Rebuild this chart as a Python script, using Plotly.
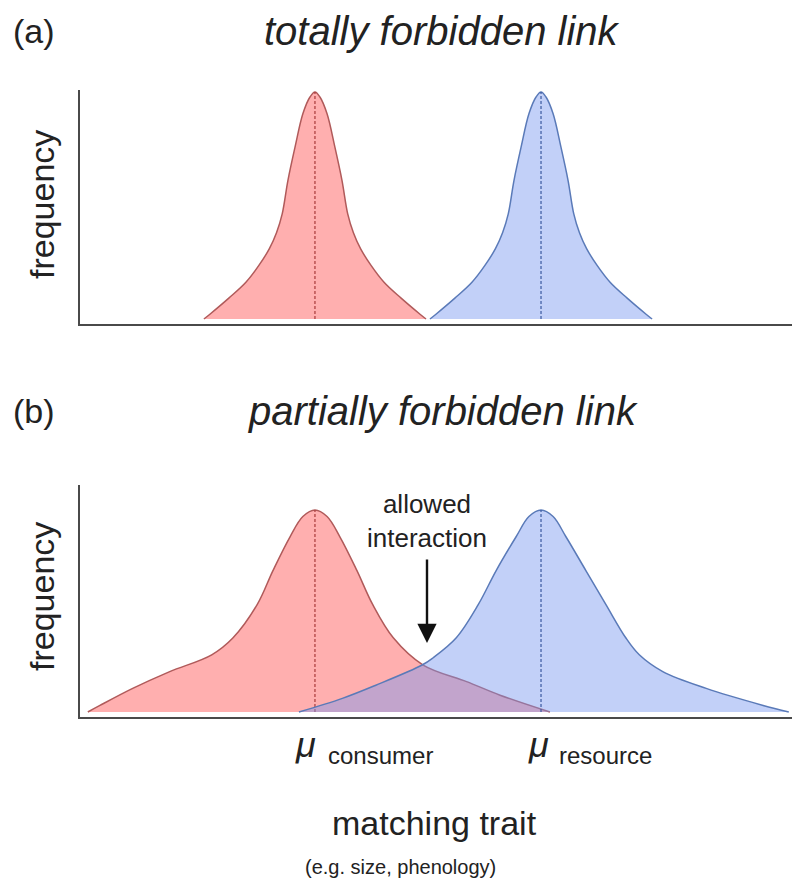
import plotly.graph_objects as go

W, H = 792, 882

# ---- data (trait axis 0..100, frequency in arbitrary units) ----
mu_consumer = 33.0
mu_resource = 64.75

# panel (a): symmetric narrow profile (offset from mean, frequency)
a_offset = [0, 0.7, 1.7, 2.8, 3.8, 4.6, 5.4, 6.4, 7.9, 9.7, 12.1, 14.8, 15.6]
a_freq = [1.0, 0.978, 0.904, 0.757, 0.61, 0.463, 0.38, 0.31, 0.235, 0.162, 0.092, 0.02, 0.0]

# panel (b): consumer (red)
b_red_left_offset = [0, 1.7, 3.5, 5.9, 8.1, 11.5, 14.5, 20.4, 25.6, 30.2, 31.9]
b_red_left_freq = [0.89, 0.861, 0.772, 0.623, 0.474, 0.327, 0.252, 0.178, 0.104, 0.029, 0.0]
b_red_right_offset = [0, 1.7, 3.5, 5.9, 8.1, 11.0, 15.2, 21.3, 26.0, 33.0]
b_red_right_freq = [0.89, 0.861, 0.772, 0.623, 0.474, 0.327, 0.207, 0.134, 0.074, 0.0]

# panel (b): resource (blue)
b_blue_left_offset = [0, 1.7, 3.5, 6.3, 8.8, 11.9, 15.2, 16.7, 23.2, 27.9, 34.0]
b_blue_left_freq = [0.89, 0.861, 0.772, 0.623, 0.474, 0.327, 0.238, 0.207, 0.118, 0.060, 0.0]
b_blue_right_offset = [0, 1.7, 3.5, 6.3, 9.1, 11.9, 13.8, 17.1, 23.2, 31.2, 34.8]
b_blue_right_freq = [0.89, 0.861, 0.772, 0.623, 0.474, 0.327, 0.252, 0.178, 0.104, 0.029, 0.0]

RED_FILL = "rgba(255,95,95,0.5)"
RED_LINE = "#b05a5a"
RED_DASH = "#a83a3a"
BLUE_FILL = "rgba(120,150,240,0.45)"
BLUE_LINE = "#5a7ab8"
BLUE_DASH = "#3a5aa0"
FONT = "Liberation Sans, Arial, sans-serif"
TXT = "#222222"


def build(mean, loff, lfreq, roff, rfreq):
    xs = [mean - o for o in reversed(loff)] + [mean + o for o in roff[1:]]
    ys = list(reversed(lfreq)) + list(rfreq[1:])
    return xs, ys


fig = go.Figure()


def add_curve(mean, loff, lfreq, roff, rfreq, fill, line, dash, xa, ya):
    xs, ys = build(mean, loff, lfreq, roff, rfreq)
    fig.add_trace(go.Scatter(x=xs, y=ys, mode="lines", fill="tozeroy", fillcolor=fill,
                             line=dict(color=line, width=1.5, shape="spline", smoothing=1.0),
                             xaxis=xa, yaxis=ya, hoverinfo="skip", showlegend=False))
    fig.add_trace(go.Scatter(x=[mean, mean], y=[0, lfreq[0]], mode="lines",
                             line=dict(color=dash, width=1.2, dash="3px,2px"),
                             xaxis=xa, yaxis=ya, hoverinfo="skip", showlegend=False))


# panel (a)
add_curve(mu_consumer, a_offset, a_freq, a_offset, a_freq, RED_FILL, RED_LINE, RED_DASH, "x", "y")
add_curve(mu_resource, a_offset, a_freq, a_offset, a_freq, BLUE_FILL, BLUE_LINE, BLUE_DASH, "x", "y")
# panel (b)
add_curve(mu_consumer, b_red_left_offset, b_red_left_freq, b_red_right_offset, b_red_right_freq,
          RED_FILL, RED_LINE, RED_DASH, "x2", "y2")
add_curve(mu_resource, b_blue_left_offset, b_blue_left_freq, b_blue_right_offset, b_blue_right_freq,
          BLUE_FILL, BLUE_LINE, BLUE_DASH, "x2", "y2")


def px(x):
    return x / W


def py(y):
    return 1 - y / H


axis_common = dict(showgrid=False, zeroline=False, showticklabels=False, ticks="",
                   showline=True, linecolor="#4a4a4a", linewidth=2, fixedrange=True)

fig.update_layout(
    width=W, height=H, margin=dict(l=0, r=0, t=0, b=0),
    paper_bgcolor="white", plot_bgcolor="white", showlegend=False,
    xaxis=dict(domain=[px(80), 1], range=[0, 100], anchor="y", **axis_common),
    yaxis=dict(domain=[py(324), py(90)], range=[-0.022, 1.009], anchor="x", **axis_common),
    xaxis2=dict(domain=[px(80), 1], range=[0, 100], anchor="y2", **axis_common),
    yaxis2=dict(domain=[py(717), py(485)], range=[-0.022, 1.0], anchor="x2", **axis_common),
)


def ann(text, x, y, size, xanchor="center", yanchor="middle", italic=False, angle=0):
    fig.add_annotation(text=text, x=px(x), y=py(y), xref="paper", yref="paper",
                       xanchor=xanchor, yanchor=yanchor, showarrow=False, textangle=angle,
                       font=dict(family=FONT, size=size, color=TXT,
                                 style="italic" if italic else "normal"))


ann("(a)", 11, 31, 34, xanchor="left")
ann("totally forbidden link", 442, 31, 40, italic=True)
ann("(b)", 11, 411, 34, xanchor="left")
ann("partially forbidden link", 443, 411, 40, italic=True)
ann("frequency", 42, 205, 34, angle=-90)
ann("frequency", 42, 597, 34, angle=-90)
ann("allowed<br>interaction", 427, 521, 26)

fig.add_annotation(x=px(427), y=py(643), xref="paper", yref="paper", text="",
                   showarrow=True, ax=0, ay=-85, arrowhead=2, arrowsize=1.6,
                   arrowwidth=2.4, arrowcolor="#111111", standoff=0)

ann("μ", 305, 744, 36, italic=True)
ann("consumer", 326, 755, 24, xanchor="left")
ann("μ", 538, 744, 36, italic=True)
ann("resource", 557, 755, 24, xanchor="left")
ann("matching trait", 434, 823, 34)
ann("(e.g. size, phenology)", 400, 867, 20)

fig.write_html("out.html", config={"displayModeBar": False},
               post_script="document.body.style.margin='0';document.body.style.padding='0';")
